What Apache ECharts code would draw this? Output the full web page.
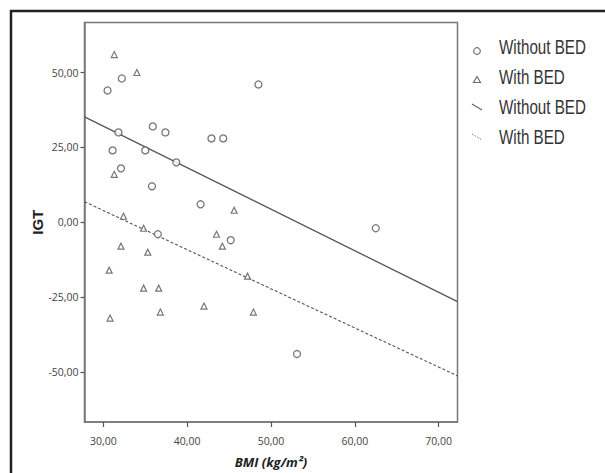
<!DOCTYPE html>
<html>
<head>
<meta charset="utf-8">
<script src="https://cdn.jsdelivr.net/npm/echarts@6/dist/echarts.min.js"></script>
<style>html,body{margin:0;padding:0;background:#fff}#c{width:605px;height:473px}</style>
</head>
<body>
<div id="c"></div>
<script>
// Without BED (circles)
var withoutX = [30.5, 32.2, 31.8, 31.1, 32.1, 35.9, 37.4, 35.0, 38.7, 35.8, 41.6, 42.9, 44.3, 48.5, 36.5, 45.2, 62.5, 53.1];
var withoutY = [44, 48, 30, 24, 18, 32, 30, 24, 20, 12, 6, 28, 28, 46, -4, -6, -2, -44];
// With BED (triangles)
var withX = [31.3, 34.0, 31.3, 32.4, 45.6, 34.8, 43.5, 44.2, 32.1, 35.3, 30.7, 34.8, 36.6, 36.8, 30.8, 42.0, 47.2, 47.9];
var withY = [56, 50, 16, 2, 4, -2, -4, -8, -8, -10, -16, -22, -22, -30, -32, -28, -18, -30];
// Fit line endpoints
var fitWithoutX = [27.75, 72.25];
var fitWithoutY = [35.2, -26.5];
var fitWithX = [27.75, 72.25];
var fitWithY = [6.85, -51.3];
// Ticks
var xTicks = [30, 40, 50, 60, 70];
var yTicks = [-50, -25, 0, 25, 50];
// Legend labels
var legendLabels = ['Without BED', 'With BED', 'Without BED', 'With BED'];

function zip(a, b) { return a.map(function (v, i) { return [v, b[i]]; }); }
function fmt(v) { return v.toFixed(2).replace('.', ','); }

var chart = echarts.init(document.getElementById('c'), null, { renderer: 'svg' });
var gray = '#555';
var lgX = 477, lgTextX = 499, lgY0 = 47, lgStep = 30;
var legendIcons = [
  { type: 'circle', shape: { cx: lgX, cy: lgY0 + 4, r: 3.3 }, style: { fill: '#fff', stroke: '#666', lineWidth: 1.1 } },
  { type: 'polygon', shape: { points: [[lgX, lgY0 + lgStep - 0.5], [lgX - 3.5, lgY0 + lgStep + 5.5], [lgX + 3.5, lgY0 + lgStep + 5.5]] }, style: { fill: '#fff', stroke: '#666', lineWidth: 1.1 } },
  { type: 'line', shape: { x1: lgX - 5, y1: lgY0 + 2 * lgStep - 3, x2: lgX + 5, y2: lgY0 + 2 * lgStep + 3 }, style: { stroke: '#666', lineWidth: 1.2 } },
  { type: 'line', shape: { x1: lgX - 5, y1: lgY0 + 3 * lgStep - 3, x2: lgX + 5, y2: lgY0 + 3 * lgStep + 3 }, style: { stroke: '#777', lineWidth: 1, lineDash: [1.5, 1.5] } }
];
var legendTexts = legendLabels.map(function (t, i) {
  return { type: 'text', x: lgTextX, y: lgY0 + i * lgStep, scaleX: 0.76,
    style: { text: t, fill: '#333', font: '20px "Liberation Sans", Arial, sans-serif', verticalAlign: 'middle', align: 'left' } };
});

chart.setOption({
  animation: false,
  backgroundColor: '#fff',
  graphic: [{
    type: 'rect', shape: { x: 11, y: 11, width: 700, height: 600 },
    style: { fill: 'none', stroke: '#222', lineWidth: 2.5 }, z: 0
  }].concat(legendIcons, legendTexts),
  grid: { left: 84.5, right: 147.5, top: 22.5, bottom: 42.5, show: true, borderColor: '#777', borderWidth: 1.5, backgroundColor: 'transparent' },
  xAxis: {
    type: 'value', min: 27.75, max: 72.25,
    name: 'BMI (kg/m²)', nameLocation: 'middle', nameGap: 33, nameMoveOverlap: false,
    nameTextStyle: { fontFamily: 'Open Sans, sans-serif', fontStyle: 'italic', fontWeight: 'bold', fontSize: 13, color: '#222' },
    axisLine: { show: true, onZero: false, lineStyle: { color: '#777', width: 1.5 } },
    axisTick: { show: true, length: 5, customValues: xTicks, lineStyle: { color: '#555', width: 1.2 } },
    axisLabel: { customValues: xTicks, formatter: fmt, margin: 13, fontFamily: 'Open Sans, sans-serif', fontSize: 10.5, color: '#444' },
    splitLine: { show: false }
  },
  yAxis: {
    type: 'value', min: -66.7, max: 66.7,
    name: 'IGT', nameLocation: 'middle', nameGap: 40, nameMoveOverlap: false,
    nameTextStyle: { fontFamily: 'Liberation Sans, Arial, sans-serif', fontWeight: 'bold', fontSize: 15, color: '#222' },
    axisLine: { show: true, onZero: false, lineStyle: { color: '#777', width: 1.5 } },
    axisTick: { show: true, length: 4, customValues: yTicks, lineStyle: { color: '#555', width: 1.2 } },
    axisLabel: { customValues: yTicks, formatter: fmt, margin: 6, fontFamily: 'Open Sans, sans-serif', fontSize: 10.5, color: '#444' },
    splitLine: { show: false }
  },
  series: [
    { name: 'Without BED', type: 'scatter', symbol: 'circle', symbolSize: 7, data: zip(withoutX, withoutY),
      itemStyle: { color: '#fff', borderColor: gray, borderWidth: 1.3 }, z: 3 },
    { name: 'With BED', type: 'scatter', symbol: 'triangle', symbolSize: 6, data: zip(withX, withY),
      itemStyle: { color: '#fff', borderColor: gray, borderWidth: 1.2 }, z: 3 },
    { name: 'Without BED fit', type: 'line', symbol: 'none', data: zip(fitWithoutX, fitWithoutY),
      lineStyle: { color: gray, width: 1.3 }, z: 2 },
    { name: 'With BED fit', type: 'line', symbol: 'none', data: zip(fitWithX, fitWithY),
      lineStyle: { color: gray, width: 1.1, type: [3, 2] }, z: 2 }
  ]
});
</script>
</body>
</html>
